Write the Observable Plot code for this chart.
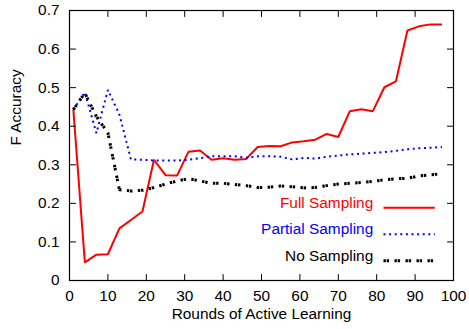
<!DOCTYPE html>
<html><head><meta charset="utf-8">
<script src="https://cdn.jsdelivr.net/npm/d3@7"></script>
<script src="https://cdn.jsdelivr.net/npm/@observablehq/plot@0.6"></script>
<style>body{margin:0;background:#fff}</style>
</head><body><div id="chart"></div>
<script>
const rounds = [1,4,7,10,13,16,19,22,25,28,31,34,37,40,43,46,49,52,55,58,61,64,67,70,73,76,79,82,85,88,91,94,97];
const fullSampling = [0.443,0.047,0.067,0.068,0.135,0.157,0.179,0.313,0.273,0.272,0.334,0.337,0.313,0.317,0.313,0.315,0.346,0.349,0.348,0.358,0.361,0.365,0.380,0.372,0.439,0.444,0.439,0.501,0.516,0.648,0.659,0.664,0.664];
const partialSampling = [0.443,0.488,0.382,0.494,0.430,0.314,0.313,0.311,0.311,0.311,0.313,0.317,0.322,0.322,0.322,0.318,0.322,0.322,0.321,0.314,0.318,0.316,0.321,0.324,0.327,0.329,0.331,0.333,0.336,0.340,0.343,0.344,0.346];
const noSampling = [0.443,0.486,0.425,0.383,0.235,0.232,0.234,0.241,0.250,0.258,0.264,0.258,0.252,0.252,0.249,0.246,0.241,0.242,0.245,0.243,0.240,0.241,0.246,0.250,0.252,0.254,0.257,0.261,0.264,0.265,0.271,0.274,0.277];
const seriesNames = ["Full Sampling","Partial Sampling","No Sampling"];
const xTicks = [0,10,20,30,40,50,60,70,80,90,100];
const yTicks = [0,0.1,0.2,0.3,0.4,0.5,0.6,0.7];

const styles = [
  {stroke:"#ff0000", strokeWidth:2, strokeDasharray:null},
  {stroke:"#0000ff", strokeWidth:2, strokeDasharray:"2,3.6"},
  {stroke:"#000000", strokeWidth:3, strokeDasharray:"2.4,0.8,2.4,5.4"}
];
const seriesValues = [fullSampling, partialSampling, noSampling];
const table = seriesNames.map((name, i) => rounds.map((r, j) => ({series:name, round:r, value:seriesValues[i][j]})));

const fs = 15.4;
const tickShape = {draw(ctx, l) { ctx.moveTo(0,0); ctx.lineTo(0,-l); }};
const tickOpts = {length:6, anchor:"start", shape:tickShape, stroke:"black", strokeWidth:1};

const marks = [];
table.forEach((rows, i) => {
  marks.push(Plot.line(rows, {x:"round", y:"value", ...styles[i], strokeLinecap:"butt", strokeLinejoin:"miter"}));
});
marks.push(Plot.vector(xTicks, {x:d=>d, frameAnchor:"bottom", rotate:0, ...tickOpts}));
marks.push(Plot.vector(xTicks, {x:d=>d, frameAnchor:"top", rotate:180, ...tickOpts}));
marks.push(Plot.vector(yTicks, {y:d=>d, frameAnchor:"left", rotate:90, ...tickOpts}));
marks.push(Plot.vector(yTicks, {y:d=>d, frameAnchor:"right", rotate:-90, ...tickOpts}));
marks.push(Plot.frame({stroke:"black", strokeWidth:1.2}));
marks.push(Plot.axisX(xTicks, {tickSize:0, tickPadding:10, label:null, fontSize:fs, tickFormat:d=>String(d)}));
marks.push(Plot.axisY(yTicks, {tickSize:0, tickPadding:10, label:null, fontSize:fs, tickFormat:d=>String(d)}));
marks.push(Plot.text(["Rounds of Active Learning"], {frameAnchor:"bottom", dy:38.6, fontSize:fs, fill:"black"}));
marks.push(Plot.text(["F Accuracy"], {frameAnchor:"left", dx:-53.2, rotate:-90, fontSize:fs, fill:"black"}));
const legendTop = -72.7, legendGap = 26.5;
seriesNames.forEach((name, i) => {
  const dy = legendTop + i*legendGap;
  marks.push(Plot.text([name], {frameAnchor:"bottom-right", dx:-80.3, dy, textAnchor:"end", fill:styles[i].stroke, fontSize:fs}));
  marks.push(Plot.vector([0], {frameAnchor:"bottom-right", dx:-70, dy, rotate:90, length:51.3, anchor:"start", shape:tickShape, ...styles[i], strokeLinecap:"butt"}));
});

const chart = Plot.plot({
  width:469, height:329,
  marginLeft:69, marginRight:16, marginTop:10, marginBottom:49,
  x:{domain:[0,100]},
  y:{domain:[0,0.7]},
  style:{fontFamily:"'Liberation Sans', Arial, Helvetica, sans-serif", fontSize:fs+"px", color:"black", background:"white"},
  marks
});
document.getElementById("chart").appendChild(chart);
</script>
</body></html>
